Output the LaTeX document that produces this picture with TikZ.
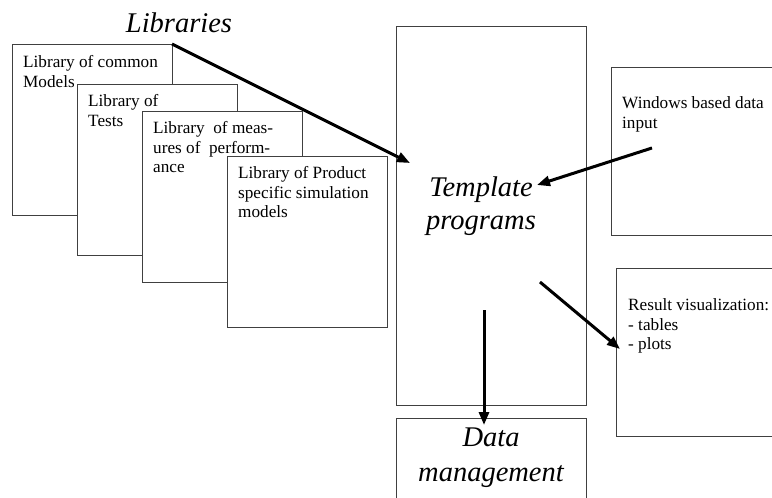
\documentclass[tikz,border=0pt]{standalone}
\usepackage{fontspec}
\setmainfont{Liberation Serif}
\usetikzlibrary{arrows.meta}
\begin{document}
\begin{tikzpicture}[x=1pt,y=-1pt,
  panel/.style={draw=black!75, line width=0.9pt, fill=white},
  smalltxt/.style={anchor=north west, inner sep=0pt, align=left,
    font=\fontsize{17.2}{19.6}\selectfont},
  bigtxt/.style={inner sep=0pt, align=center,
    font=\fontsize{28.5}{33}\selectfont\itshape},
  flow/.style={line width=3pt, -{Triangle[length=13pt,width=10pt]}}]
\clip (0,0) rectangle (772,498);
\fill[white] (0,0) rectangle (772,498);

% stacked library cards (text placed by the top of its first line)
\draw[panel] (12,44) rectangle (172,215);
\coordinate (libcorner) at (172,44);
\node[smalltxt] (lib1) at (23,55.3) {Library of common\\Models};
\draw[panel] (77,84) rectangle (237,255);
\node[smalltxt] (lib2) at (88,94.3) {Library of\\Tests};
\draw[panel] (142,111) rectangle (302,282);
\node[smalltxt] (lib3) at (153,121.3) {Library\ \ of meas-\\ures of\ \ perform-\\ance};
\draw[panel] (227,156) rectangle (387,327);
\node[smalltxt] (lib4) at (238,166.3) {Library of Product\\specific simulation\\models};

\node[bigtxt, anchor=base] (libs) at (179,32) {Libraries};

% central template box and data store
\draw[panel] (396,26) rectangle (586,405);
\node[bigtxt, anchor=north] (tmpl) at (481,176.5) {Template\\programs};
\draw[panel] (396,418) rectangle (586,520);
\node[bigtxt, anchor=north, font=\fontsize{28.5}{35}\selectfont\itshape] (data) at (491,428) {Data\\management};

% input and output panels
\draw[panel] (611,67) rectangle (790,235);
\node[smalltxt] (win) at (622,96.3) {Windows based data\\input};
\draw[panel] (616,268) rectangle (790,436);
\node[smalltxt] (res) at (628,298.3) {Result visualization:\\- tables\\- plots};

% connectors
\coordinate (tin) at (410,163);
\coordinate (winout) at (652,148);
\coordinate (tin2) at (537,185);
\coordinate (tout) at (540,282);
\coordinate (resin) at (620,349);
\coordinate (tdown) at (484,310);
\coordinate (datain) at (484,425);
\draw[flow] (libcorner) -- (tin);
\draw[flow] (winout) -- (tin2);
\draw[flow] (tout) -- (resin);
\draw[flow] (tdown) -- (datain);
\end{tikzpicture}
\end{document}
